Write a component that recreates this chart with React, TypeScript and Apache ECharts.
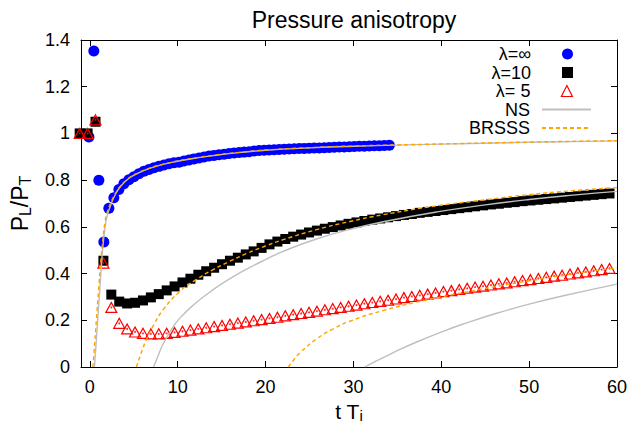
import React, { useEffect, useRef } from "react";
import * as echarts from "echarts";

const FONT = "'Liberation Sans', Arial, Helvetica, sans-serif";

const xTicks = [0, 10, 20, 30, 40, 50, 60];
const yTicks = [0, 0.2, 0.4, 0.6, 0.8, 1, 1.2, 1.4];

const legendNames = ["λ=∞", "λ=10", "λ= 5", "NS", "BRSSS"];

// λ = ∞ data
const tInf = [
  -0.1, 0.46, 1.03, 1.6, 2.17, 2.74, 3.31, 3.88, 4.45, 5.02, 5.59, 6.16, 6.73, 7.3, 7.87, 8.44,
  9.01, 9.58, 10.15, 10.72, 11.29, 11.86, 12.43, 13.0, 13.57, 14.14, 14.71, 15.28, 15.85, 16.42,
  16.99, 17.56, 18.13, 18.7, 19.27, 19.84, 20.41, 20.98, 21.55, 22.12, 22.69, 23.26, 23.83, 24.4,
  24.97, 25.54, 26.11, 26.68, 27.25, 27.82, 28.39, 28.96, 29.53, 30.1, 30.67, 31.24, 31.81, 32.38,
  32.95, 33.52, 34.09,
];
const pInf = [
  0.985, 1.353, 0.8, 0.535, 0.68, 0.725, 0.76, 0.785, 0.802, 0.815, 0.827, 0.838, 0.846, 0.853,
  0.859, 0.865, 0.87, 0.874, 0.877, 0.882, 0.886, 0.891, 0.895, 0.899, 0.903, 0.906, 0.909, 0.911,
  0.914, 0.916, 0.918, 0.92, 0.922, 0.925, 0.927, 0.928, 0.929, 0.93, 0.931, 0.932, 0.933, 0.934,
  0.935, 0.936, 0.937, 0.938, 0.938, 0.939, 0.94, 0.941, 0.942, 0.942, 0.943, 0.944, 0.945, 0.945,
  0.946, 0.947, 0.947, 0.948, 0.949,
];

// λ = 10 and λ = 5 data share times
const tFin = [
  -1.15, -0.25, 0.65, 1.55, 2.45, 3.35, 4.25, 5.15, 6.05, 6.95, 7.85, 8.75, 9.65, 10.55, 11.45,
  12.35, 13.25, 14.15, 15.05, 15.95, 16.85, 17.75, 18.65, 19.55, 20.45, 21.35, 22.25, 23.15, 24.05,
  24.95, 25.85, 26.75, 27.65, 28.55, 29.45, 30.35, 31.25, 32.15, 33.05, 33.95, 34.85, 35.75, 36.65,
  37.55, 38.45, 39.35, 40.25, 41.15, 42.05, 42.95, 43.85, 44.75, 45.65, 46.55, 47.45, 48.35, 49.25,
  50.15, 51.05, 51.95, 52.85, 53.75, 54.65, 55.55, 56.45, 57.35, 58.25, 59.15,
];
const p10 = [
  1.0, 1.0, 1.05, 0.455, 0.31, 0.28, 0.272, 0.275, 0.285, 0.298,
  0.312, 0.328, 0.345, 0.362, 0.378, 0.395, 0.41, 0.425, 0.44, 0.455,
  0.468, 0.482, 0.495, 0.51, 0.525, 0.537, 0.548, 0.558, 0.567, 0.576,
  0.584, 0.592, 0.599, 0.606, 0.613, 0.619, 0.625, 0.631, 0.636, 0.641,
  0.646, 0.651, 0.655, 0.66, 0.664, 0.668, 0.672, 0.676, 0.68, 0.684,
  0.688, 0.692, 0.696, 0.699, 0.703, 0.706, 0.71, 0.713, 0.716, 0.719,
  0.722, 0.725, 0.728, 0.731, 0.734, 0.737, 0.74, 0.743,
];
const p5 = [
  1.0, 1.0, 1.058, 0.445, 0.255, 0.187, 0.163, 0.15, 0.144, 0.142,
  0.142, 0.144, 0.148, 0.153, 0.158, 0.163, 0.168, 0.173, 0.178, 0.183,
  0.188, 0.193, 0.198, 0.203, 0.208, 0.213, 0.219, 0.224, 0.229, 0.234,
  0.239, 0.245, 0.25, 0.255, 0.26, 0.265, 0.271, 0.276, 0.281, 0.286,
  0.291, 0.297, 0.302, 0.307, 0.312, 0.317, 0.323, 0.327, 0.332, 0.337,
  0.342, 0.346, 0.351, 0.356, 0.36, 0.365, 0.37, 0.374, 0.379, 0.384,
  0.389, 0.393, 0.398, 0.403, 0.407, 0.412, 0.417, 0.422,
];

// Hydro curves: [t, PL/PT]
const nsInf = [
  [0.53, 0], [0.7, 0.09], [0.9, 0.2], [1.1, 0.31], [1.3, 0.42], [1.5, 0.52], [1.75, 0.6],
  [2.0, 0.65], [2.5, 0.705], [3.0, 0.745], [3.5, 0.773], [4.5, 0.809], [5.5, 0.83], [6.5, 0.846],
  [8, 0.864], [10, 0.881], [12, 0.894], [14, 0.905], [17, 0.918], [20, 0.928], [25, 0.938],
  [30, 0.945], [35, 0.95], [40, 0.954], [50, 0.962], [60, 0.968],
];
const brInf = [
  [0.35, 0], [0.5, 0.07], [0.75, 0.2], [1.0, 0.33], [1.25, 0.45], [1.5, 0.55], [1.75, 0.625],
  [2.0, 0.665], [2.5, 0.712], [3.0, 0.748], [3.5, 0.775], [4.5, 0.81], [5.5, 0.831], [6.5, 0.847],
  [8, 0.865], [10, 0.882], [12, 0.895], [14, 0.906], [17, 0.919], [20, 0.929], [25, 0.939],
  [30, 0.946], [35, 0.951], [40, 0.955], [50, 0.963], [60, 0.969],
];
const ns10 = [
  [7.26, 0], [7.8, 0.05], [8.3, 0.095], [9.2, 0.155], [10.2, 0.207], [12.1, 0.275], [14, 0.33],
  [15.9, 0.377], [17.8, 0.418], [20, 0.46], [22, 0.495], [25.8, 0.548], [29.6, 0.589],
  [33.4, 0.622], [39.5, 0.664], [45, 0.694], [50, 0.717], [55, 0.736], [60, 0.752],
];
const br10 = [
  [5.3, 0], [5.8, 0.055], [6.4, 0.113], [7.3, 0.182], [8.3, 0.243], [10.2, 0.322], [12.1, 0.374],
  [14, 0.416], [15.9, 0.452], [17.8, 0.485], [20, 0.518], [22, 0.545], [25.8, 0.588],
  [29.6, 0.623], [33.4, 0.652], [39.5, 0.69], [45, 0.716], [50, 0.738], [55, 0.755], [60, 0.768],
];
const ns5 = [
  [31.3, 0], [32.3, 0.02], [33.4, 0.04], [35.3, 0.075], [37.2, 0.107], [39.9, 0.148],
  [42.5, 0.184], [46.3, 0.23], [50.1, 0.27], [53.9, 0.305], [60, 0.355],
];
const br5 = [
  [22.6, 0], [23.2, 0.03], [23.9, 0.06], [25.8, 0.12], [27.7, 0.163], [29.6, 0.196],
  [33.4, 0.242], [37, 0.276], [40, 0.3], [43, 0.322], [46.3, 0.345], [50, 0.369], [54, 0.393],
  [60, 0.425],
];

const zip = (a: number[], b: number[]) =>
  a.slice(0, Math.min(a.length, b.length)).map((v, i) => [v, b[i]]);

export default function App() {
  const ref = useRef<HTMLDivElement>(null);

  useEffect(() => {
    if (!ref.current) return;
    const chart = echarts.init(ref.current, undefined, { renderer: "svg" });

    const axisCommon = {
      type: "value" as const,
      axisLine: { show: true, onZero: false, lineStyle: { color: "#000", width: 1 } },
      axisTick: { show: true, inside: true, length: 6, lineStyle: { color: "#000", width: 1 } },
      splitLine: { show: false },
    };

    const lineSeries = (name: string, data: number[][], color: string, dashed: boolean) => ({
      type: "line",
      name,
      data,
      smooth: 0.5,
      showSymbol: false,
      symbol: "none",
      lineStyle: { color, width: 1.4, type: dashed ? [4, 3] : "solid" },
      itemStyle: { color },
      z: 3,
    });

    const legendTops = [45, 63.5, 82, 100.5, 119];
    const isMarker = (n: string) => n.startsWith("λ");

    chart.setOption({
      animation: false,
      backgroundColor: "#fff",
      textStyle: { fontFamily: FONT },
      title: {
        text: "Pressure anisotropy",
        left: 349,
        textAlign: "center",
        top: 3,
        textStyle: { fontFamily: FONT, fontSize: 23, fontWeight: "normal", color: "#000" },
      },
      grid: {
        left: 81,
        right: 10,
        top: 40,
        bottom: 56,
        containLabel: false,
        outerBoundsMode: "none",
      },
      legend: legendNames.map((n, i) => ({
        data: [n],
        orient: "horizontal",
        align: "right",
        right: isMarker(n) ? 54 : 35,
        top: legendTops[i],
        padding: 0,
        itemWidth: isMarker(n) ? 11 : 49,
        itemHeight: 11,
        selectedMode: false,
        textStyle: {
          fontFamily: FONT,
          fontSize: 18,
          color: "#000",
          padding: [0, isMarker(n) ? 26 : 7, 0, 0],
        },
        ...(n === "λ= 5"
          ? { itemStyle: { color: "transparent", borderColor: "#ff0000", borderWidth: 1.2 } }
          : {}),
        ...(!isMarker(n)
          ? { itemStyle: { color: "transparent", borderColor: "transparent", borderWidth: 0, opacity: 0 } }
          : {}),
      })),
      xAxis: [
        {
          ...axisCommon,
          min: -1,
          max: 60,
          position: "bottom",
          axisTick: { ...axisCommon.axisTick, customValues: xTicks },
          axisLabel: {
            customValues: xTicks,
            color: "#000",
            fontFamily: FONT,
            fontSize: 18,
            margin: 11,
          },
          name: "{m|t T}{s|i}",
          nameLocation: "middle",
          nameGap: 24,
          nameTextStyle: {
            color: "#000",
            fontFamily: FONT,
            fontSize: 21,
            rich: {
              m: { fontFamily: FONT, fontSize: 21, lineHeight: 24, color: "#000" },
              s: { fontFamily: FONT, fontSize: 15, lineHeight: 24, color: "#000", padding: [7, 0, 0, 0] },
            },
          },
        },
        {
          ...axisCommon,
          min: -1,
          max: 60,
          position: "top",
          axisTick: { ...axisCommon.axisTick, customValues: xTicks },
          axisLabel: { show: false },
        },
      ],
      yAxis: [
        {
          ...axisCommon,
          min: 0,
          max: 1.4,
          position: "left",
          axisTick: { ...axisCommon.axisTick, customValues: yTicks },
          axisLabel: {
            customValues: yTicks,
            color: "#000",
            fontFamily: FONT,
            fontSize: 18,
            margin: 11,
          },
          name: "{m|P}{s|L}{m|/P}{s|T}",
          nameLocation: "middle",
          nameRotate: 90,
          nameGap: 48,
          nameTextStyle: {
            color: "#000",
            fontFamily: FONT,
            fontSize: 23,
            rich: {
              m: { fontFamily: FONT, fontSize: 23, color: "#000" },
              s: { fontFamily: FONT, fontSize: 16, color: "#000", padding: [11, 0, 0, 0] },
            },
          },
        },
        {
          ...axisCommon,
          min: 0,
          max: 1.4,
          position: "right",
          axisTick: { ...axisCommon.axisTick, customValues: yTicks },
          axisLabel: { show: false },
        },
      ],
      series: [
        {
          type: "scatter",
          name: "λ=∞",
          data: zip(tInf, pInf),
          symbol: "circle",
          symbolSize: 11,
          itemStyle: { color: "#0000ff", opacity: 1 },
          clip: false,
          z: 2,
        },
        {
          type: "scatter",
          name: "λ=10",
          data: zip(tFin, p10),
          symbol: "rect",
          symbolSize: 10,
          itemStyle: { color: "#000000", opacity: 1 },
          clip: false,
          z: 2,
        },
        {
          type: "scatter",
          name: "λ= 5",
          data: zip(tFin, p5),
          symbol: "triangle",
          symbolSize: [11, 10],
          itemStyle: { color: "transparent", borderColor: "#ff0000", borderWidth: 1.2, opacity: 1 },
          clip: false,
          z: 2,
        },
        {
          type: "scatter",
          name: "λ= 5 centre",
          data: zip(tFin, p5),
          symbol: "circle",
          symbolSize: 2,
          itemStyle: { color: "#ff0000" },
          clip: false,
          z: 2,
        },
        lineSeries("NS", nsInf, "#bfbfbf", false),
        lineSeries("NS", ns10, "#bfbfbf", false),
        lineSeries("NS", ns5, "#bfbfbf", false),
        lineSeries("BRSSS", brInf, "#ffa500", true),
        lineSeries("BRSSS", br10, "#ffa500", true),
        lineSeries("BRSSS", br5, "#ffa500", true),
      ],
    });

    return () => chart.dispose();
  }, []);

  return (
    <div
      ref={ref}
      style={{ position: "fixed", left: 0, top: 0, width: 627, height: 423, background: "#fff" }}
    />
  );
}
